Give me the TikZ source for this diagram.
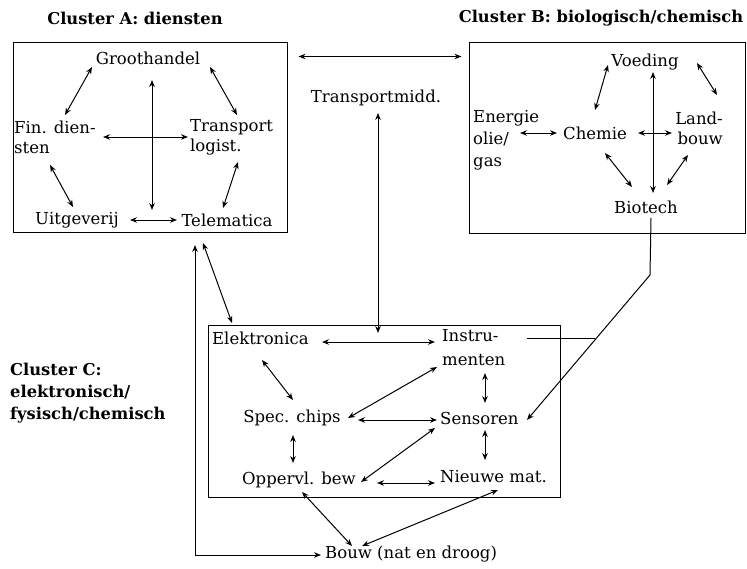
\documentclass[tikz,border=0pt]{standalone}
\usepackage{fontspec}
\setmainfont{DejaVu Serif}
\usetikzlibrary{arrows.meta,calc}
\begin{document}
\begin{tikzpicture}[x=1pt,y=-1pt,
  lbl/.style={inner sep=0pt,font=\fontsize{16.5}{21}\selectfont},
  ttl/.style={inner sep=0pt,font=\fontsize{16.3}{22}\selectfont\bfseries},
  boxc/.style={draw,line width=1pt,inner sep=0pt},
  dbl/.style={{Stealth[length=7pt,width=5.5pt]}-{Stealth[length=7pt,width=5.5pt]},line width=1pt},
  sgl/.style={-{Stealth[length=7pt,width=5.5pt]},line width=1pt},
  pln/.style={line width=1pt}]
\useasboundingbox (0,0) rectangle (747,568);
% titles
\node[ttl] (tA) at (135,18) {Cluster A: diensten};
\node[ttl] (tB) at (601,18) {Cluster B: biologisch/chemisch};
\node[ttl,anchor=west,align=left] (tC) at (10,393) {Cluster C:\\elektronisch/\\fysisch/chemisch};
% boxes
\node[boxc,minimum width=274pt,minimum height=190pt] (boxA) at (150,137) {};
\node[boxc,minimum width=276pt,minimum height=191pt] (boxB) at (607,137.5) {};
\node[boxc,minimum width=352pt,minimum height=172pt] (boxC) at (384,411) {};
% cluster A
\node[lbl] (groot) at (148,58) {Groothandel};
\node[lbl,anchor=west,align=left,font=\fontsize{16.5}{20}\selectfont] (fin) at (14,137) {Fin. dien-\\sten};
\node[lbl,anchor=west,align=left,font=\fontsize{16.5}{20}\selectfont] (transp) at (190,137) {Transport\\logist.};
\node[lbl] (uitg) at (77,220) {Uitgeverij};
\node[lbl] (telem) at (227,220) {Telematica};
\draw[dbl] ([shift={(-56,9)}]groot.center) -- ([shift={(51,-22)}]fin.west);
\draw[dbl] ([shift={(62,9)}]groot.center) -- ([shift={(47,-22)}]transp.west);
\draw[dbl] ([shift={(4,22)}]groot.center) -- ([shift={(-75,-10)}]telem.center);
\draw[dbl] ([shift={(89,0)}]fin.west) -- ([shift={(-2,0)}]transp.west);
\draw[dbl] ([shift={(36,28)}]fin.west) -- ([shift={(-4,-13)}]uitg.center);
\draw[dbl] ([shift={(48,25)}]transp.west) -- ([shift={(-4,-12)}]telem.center);
\draw[dbl] ([shift={(53,0)}]uitg.center) -- ([shift={(-50,0)}]telem.center);
% A - B
\draw[dbl] ([shift={(11,15)}]boxA.north east) -- ([shift={(-7,15)}]boxB.north west);
% transportmidd
\node[lbl] (tm) at (376,98) {Transportmidd.};
% cluster B
\node[lbl] (voed) at (645,62) {Voeding};
\node[lbl,anchor=west,align=left,font=\fontsize{16.5}{22}\selectfont] (energ) at (473,140) {Energie\\olie/\\gas};
\node[lbl] (chem) at (595,133) {Chemie};
\node[lbl,anchor=east,align=right,font=\fontsize{16.5}{20}\selectfont] (land) at (723,128) {Land-\\bouw};
\node[lbl] (bio) at (646,207) {Biotech};
\draw[dbl] ([shift={(-37,3)}]voed.center) -- ([shift={(0,-23)}]chem.center);
\draw[dbl] ([shift={(52,1)}]voed.center) -- ([shift={(-6,-33)}]land.east);
\draw[dbl] ([shift={(8,10)}]voed.center) -- ([shift={(7,-14)}]bio.center);
\draw[dbl] ([shift={(47,-7)}]energ.west) -- ([shift={(-38,0)}]chem.center);
\draw[dbl] ([shift={(43,0)}]chem.center) -- ([shift={(-51,5)}]land.east);
\draw[dbl] ([shift={(10,20)}]chem.center) -- ([shift={(-14,-20)}]bio.center);
\draw[dbl] ([shift={(-35,27)}]land.east) -- ([shift={(21,-22)}]bio.center);
% cluster C
\node[lbl,anchor=west] (elek) at (212,338) {Elektronica};
\node[lbl,anchor=west,align=left,font=\fontsize{16.5}{24}\selectfont] (instr) at (442,348) {Instru-\\menten};
\node[lbl] (chips) at (292,418) {Spec. chips};
\node[lbl,anchor=west] (sens) at (440,418) {Sensoren};
\node[lbl,anchor=west] (opp) at (242,480) {Oppervl. bew};
\node[lbl,anchor=west] (nieuw) at (440,477) {Nieuwe mat.};
\node[lbl,anchor=west] (bouw) at (325,554) {Bouw (nat en droog)};
% Biotech -> Sensoren, with Instrumenten joining
\coordinate (bend) at ([shift={(4,68)}]bio.center);
\coordinate (sarr) at ([shift={(87,2)}]sens.west);
\coordinate (junc) at ($(bend)!0.446!(sarr)$);
\coordinate (istart) at ([shift={(85,-10)}]instr.west);
\draw[sgl] ([shift={(5,11)}]bio.center) -- (bend) -- (sarr);
\draw[pln] (istart) -- (junc |- istart);
% transportmidd vertical
\coordinate (tmend) at ([shift={(166,-5)}]elek.west);
\draw[dbl] ([shift={(2,15)}]tm.center) -- (tmend);
\draw[dbl] ([shift={(110,4)}]elek.west) -- ([shift={(-7,-6)}]instr.west);
\draw[dbl] ([shift={(50,22)}]elek.west) -- ([shift={(1,-18)}]chips.center);
\draw[dbl] ([shift={(56,0)}]chips.center) -- ([shift={(-5,19)}]instr.west);
\draw[dbl] ([shift={(66,2)}]chips.center) -- ([shift={(-3,2)}]sens.west);
\draw[dbl] ([shift={(1,17)}]chips.center) -- ([shift={(51,-17)}]opp.west);
\draw[dbl] ([shift={(43,25)}]instr.west) -- ([shift={(45,-15)}]sens.west);
\draw[dbl] ([shift={(45,12)}]sens.west) -- ([shift={(45,-17)}]nieuw.west);
\draw[dbl] ([shift={(-5,10)}]sens.west) -- ([shift={(119,2)}]opp.west);
\draw[dbl] ([shift={(135,3)}]opp.west) -- ([shift={(-5,6)}]nieuw.west);
\draw[dbl] ([shift={(60,12)}]opp.west) -- ([shift={(27,-8)}]bouw.west);
\draw[dbl] ([shift={(37,-8)}]bouw.west) -- ([shift={(58,13)}]nieuw.west);
% A - C
\draw[dbl] ([shift={(-24,23)}]telem.center) -- ([shift={(20,-15)}]elek.west);
\draw[dbl] ([shift={(-32,25)}]telem.center) |- ([shift={(-4,1)}]bouw.west);
\end{tikzpicture}
\end{document}
